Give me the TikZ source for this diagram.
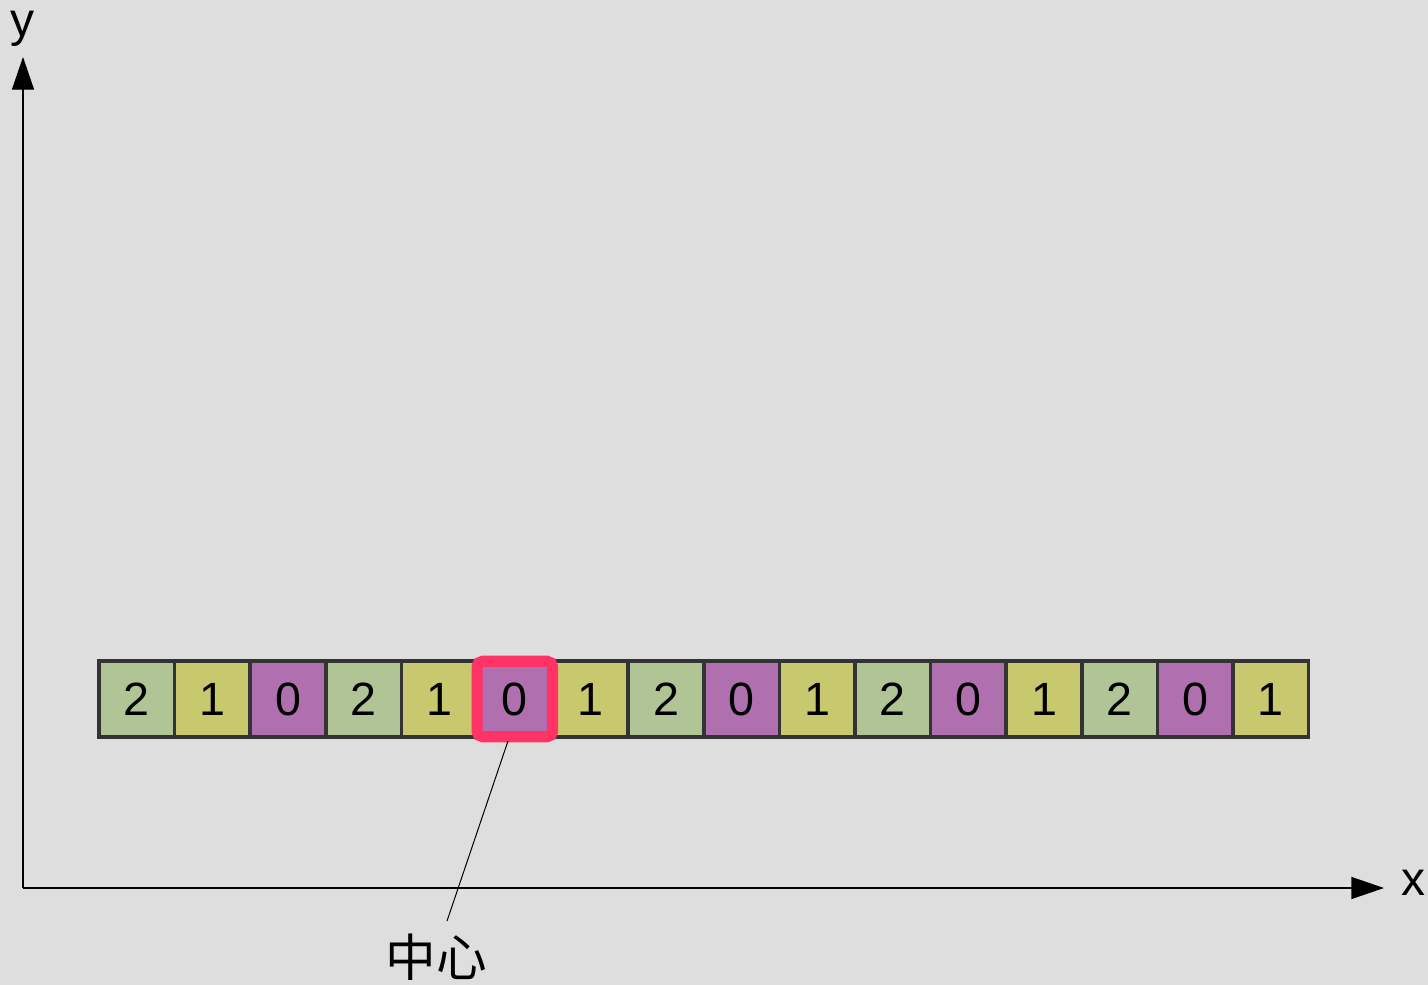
\documentclass[tikz,border=0pt]{standalone}
\usepackage{fontspec}
\setmainfont{Liberation Sans}
\newfontfamily\cjk{Noto Sans CJK SC}
\usetikzlibrary{arrows.meta}
\definecolor{bgc}{HTML}{DEDEDE}
\definecolor{cgreen}{HTML}{B0C495}
\definecolor{cyellow}{HTML}{C8C86E}
\definecolor{cpurple}{HTML}{B06FAE}
\definecolor{cborder}{HTML}{333333}
\definecolor{cpink}{HTML}{FF3366}
\tikzset{
  cell/.style={draw=cborder, line width=2.6pt, minimum width=56.7pt, minimum height=57pt, inner sep=0pt, font=\fontsize{35}{37}\selectfont},
  c2/.style={cell, fill=cgreen},
  c1/.style={cell, fill=cyellow},
  c0/.style={cell, fill=cpurple},
  hl/.style={draw=cpink, line width=8.4pt, rounded corners=4pt, minimum width=56.5pt, minimum height=56.5pt, inner sep=0pt},
  axis/.style={line width=1pt, -{Triangle[length=24.5pt, width=16.5pt]}},
  lbl/.style={font=\fontsize{36}{38}\selectfont, inner sep=0pt},
}
\begin{document}
\begin{tikzpicture}[x=0.75pt, y=-0.75pt]
\useasboundingbox[fill=bgc] (0,0) rectangle (1428,985);
\coordinate (o) at (23,888);
\coordinate (ytip) at (23,57);
\coordinate (xtip) at (1384,888);
\draw[axis] (o) -- (ytip);
\draw[axis] (o) -- (xtip);
\node[lbl] (ylab) at (22,29) {y};
\node[lbl] (xlab) at (1413,883) {x};
\foreach \v [count=\i from 0] in {2,1,0,2,1,0,1,2,0,1,2,0,1,2,0,1} {
  \node[c\v] (cell\i) at ({99+75.6*(\i+0.5)},699) {\v};
}
\node[hl] (hlbox) at (cell5.center) {};
\node[lbl, font=\cjk\fontsize{38}{40}\selectfont] (center) at (436,957) {中心};
\coordinate (lt) at (508,741);
\coordinate (lb) at (447,921);
\draw[line width=0.75pt] (lt) -- (lb);
\end{tikzpicture}
\end{document}
